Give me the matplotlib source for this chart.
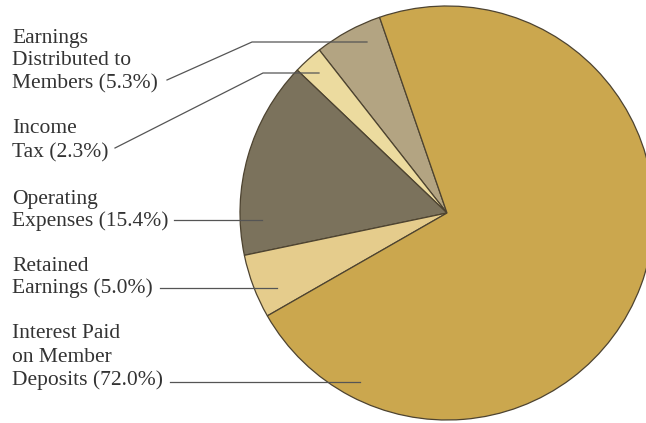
import matplotlib
matplotlib.use("Agg")
import matplotlib.pyplot as plt

# ---- data ----
categories = ["Earnings Distributed to Members", "Income Tax", "Operating Expenses",
              "Retained Earnings", "Interest Paid on Member Deposits"]
values = [5.3, 2.3, 15.4, 5.0, 72.0]
label_lines = [
    ["Earnings", "Distributed to", "Members (5.3%)"],
    ["Income", "Tax (2.3%)"],
    ["Operating", "Expenses (15.4%)"],
    ["Retained", "Earnings (5.0%)"],
    ["Interest Paid", "on Member", "Deposits (72.0%)"],
]
colors = ["#b3a482", "#ecdb9f", "#7b725c", "#e5cc8c", "#cba74e"]

# ---- layout (pixel space, y measured from top) ----
W, H = 646, 423
fig = plt.figure(figsize=(W / 100, H / 100), dpi=100)
ax = fig.add_axes([0, 0, 1, 1])

def Y(y):
    return H - y

cx, cy, r = 447, 213, 207
wedges, _ = ax.pie(values, colors=colors, startangle=109, counterclock=True,
                   center=(cx, Y(cy)), radius=r,
                   wedgeprops=dict(edgecolor="#4d4330", linewidth=0.9))

# label text baselines
text_x = 12
baselines = [[43, 65, 88], [133, 157], [204, 226], [271, 293], [338, 362, 385]]
for lines, bls in zip(label_lines, baselines):
    for s, b in zip(lines, bls):
        ax.text(text_x, Y(b), s, fontsize=15.5, family="Liberation Serif",
                color="#333333", va="baseline", ha="left")

# leader lines
leaders = [
    [(167, 80), (252, 42), (367, 42)],
    [(115, 148), (263, 73), (319, 73)],
    [(174, 220), (262, 220)],
    [(160, 288), (277, 288)],
    [(170, 382), (360, 382)],
]
for pts in leaders:
    xs = [p[0] for p in pts]
    ys = [Y(p[1]) for p in pts]
    ax.plot(xs, ys, color="#555555", linewidth=0.9)

ax.set_xlim(0, W)
ax.set_ylim(0, H)
ax.set_aspect("equal")
ax.axis("off")
fig.savefig("out.png", dpi=100)
